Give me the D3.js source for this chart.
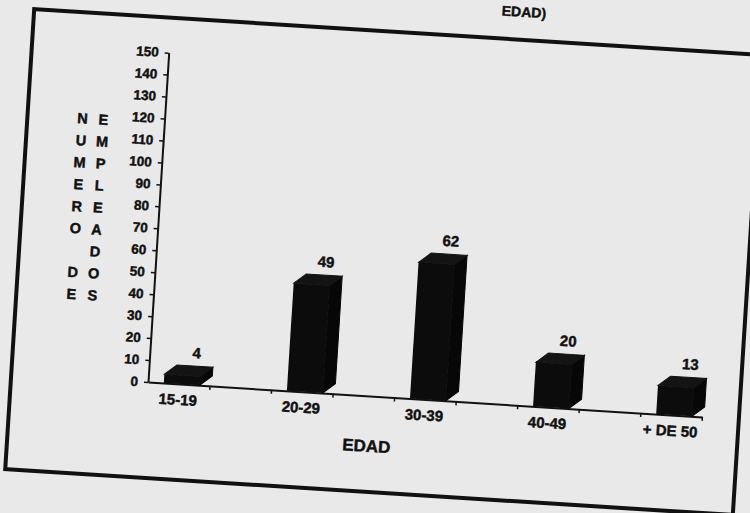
<!DOCTYPE html>
<html>
<head>
<meta charset="utf-8">
<script src="https://cdn.jsdelivr.net/npm/d3@7"></script>
<style>
  html, body { margin: 0; padding: 0; background: #e9e9e9; }
  svg { display: block; }
  text { font-family: "Liberation Sans", Arial, Helvetica, sans-serif; font-weight: bold; fill: #111; stroke: #111; stroke-width: 0.45px; }
</style>
</head>
<body>
<svg id="chart" width="750" height="513"></svg>
<script>
// Employees by age group
const categories = ["15-19", "20-29", "30-39", "40-49", "+ DE 50"];
const employees = [4, 49, 62, 20, 13];
const yTickValues = [0, 10, 20, 30, 40, 50, 60, 70, 80, 90, 100, 110, 120, 130, 140, 150];
const yTitleLeft = ["N", "U", "M", "E", "R", "O", "", "D", "E"];
const yTitleRight = ["E", "M", "P", "L", "E", "A", "D", "O", "S"];
const xTitle = "EDAD";
const headerFragment = "EDAD)";

// Layout (the whole sheet sits slightly tilted)
const origin = { x: 148, y: 382 };
const tilt = 3.6;
const axisLen = 555;
const axisHeight = 330;
const slots = 9;
const barWidth = 36;
const depth = { dx: 12, dy: -10 };
const barShift = 3;

const svg = d3.select("#chart");
svg.append("rect").attr("width", 750).attr("height", 513).attr("fill", "#e9e9e9");

const g = svg.append("g")
  .attr("transform", `rotate(${tilt},${origin.x},${origin.y}) translate(${origin.x},${origin.y})`);

// Frame around the chart
g.append("rect")
  .attr("x", -137).attr("y", -365)
  .attr("width", 729).attr("height", 461)
  .attr("fill", "none").attr("stroke", "#111").attr("stroke-width", 4);

// Scales
const y = d3.scaleLinear().domain([0, 150]).range([0, -axisHeight]);
const xSlots = d3.scaleLinear().domain([0, slots]).range([0, axisLen]);
const x = d3.scalePoint().domain(categories).range([0, axisLen]).padding(0.25);

// Y axis
const yAxis = g.append("g")
  .call(d3.axisLeft(y).tickValues(yTickValues).tickSize(4).tickSizeOuter(0).tickPadding(6));
yAxis.select(".domain").attr("stroke", "#111").attr("stroke-width", 2);
yAxis.selectAll(".tick line").attr("stroke", "#111").attr("stroke-width", 1.5);
yAxis.selectAll(".tick text")
  .attr("font-size", 13.5).attr("font-family", null).attr("fill", "#111");

// X axis
const xAxis = g.append("g")
  .call(d3.axisBottom(xSlots).tickValues(d3.range(1, slots + 1)).tickSize(4).tickSizeOuter(0).tickFormat(""));
xAxis.select(".domain").attr("stroke", "#111").attr("stroke-width", 2);
xAxis.selectAll(".tick line").attr("stroke", "#111").attr("stroke-width", 1.5);

// Category labels
g.selectAll(".cat-label")
  .data(categories)
  .join("text")
  .attr("class", "cat-label")
  .attr("x", d => x(d))
  .attr("y", 21)
  .attr("text-anchor", "middle")
  .attr("font-size", 15)
  .text(d => d);

// 3D bars
const bars = g.selectAll(".bar")
  .data(categories.map((c, i) => ({ c, v: employees[i] })))
  .join("g")
  .attr("class", "bar");

bars.each(function (d) {
  const sel = d3.select(this);
  const cx = x(d.c) + barShift;
  const l = cx - barWidth / 2, r = cx + barWidth / 2, t = y(d.v);
  // side face
  sel.append("polygon")
    .attr("points", [[r, t], [r + depth.dx, t + depth.dy], [r + depth.dx, depth.dy], [r, 0]].join(" "))
    .attr("fill", "#070707").attr("stroke", "#070707").attr("stroke-width", 1);
  // top face
  sel.append("polygon")
    .attr("points", [[l, t], [l + depth.dx, t + depth.dy], [r + depth.dx, t + depth.dy], [r, t]].join(" "))
    .attr("fill", "#141414").attr("stroke", "#141414").attr("stroke-width", 1);
  // front face
  sel.append("rect")
    .attr("x", l).attr("y", t)
    .attr("width", barWidth).attr("height", -t)
    .attr("fill", "#0c0c0c");
  // value label
  sel.append("text")
    .attr("x", cx + depth.dx + 1)
    .attr("y", t + depth.dy - 8)
    .attr("text-anchor", "middle")
    .attr("font-size", 15)
    .text(d.v);
});

// Vertical stacked y-axis title
const step = y(0) - y(10);
function stackColumn(letters, xPos) {
  g.selectAll(null)
    .data(letters)
    .join("text")
    .attr("x", xPos)
    .attr("y", (d, i) => y(120) + i * step + 5)
    .attr("dy", "0.35em")
    .attr("text-anchor", "middle")
    .attr("font-size", 14.5)
    .text(d => d);
}
stackColumn(yTitleLeft, -82);
stackColumn(yTitleRight, -61);

// X axis title
g.append("text")
  .attr("x", axisLen * 0.4)
  .attr("y", 56)
  .attr("text-anchor", "middle")
  .attr("font-size", 17)
  .text(xTitle);

// Tail of the sheet heading above the frame
g.append("text")
  .attr("x", 352)
  .attr("y", -388)
  .attr("text-anchor", "middle")
  .attr("font-size", 14)
  .text(headerFragment);
</script>
</body>
</html>
